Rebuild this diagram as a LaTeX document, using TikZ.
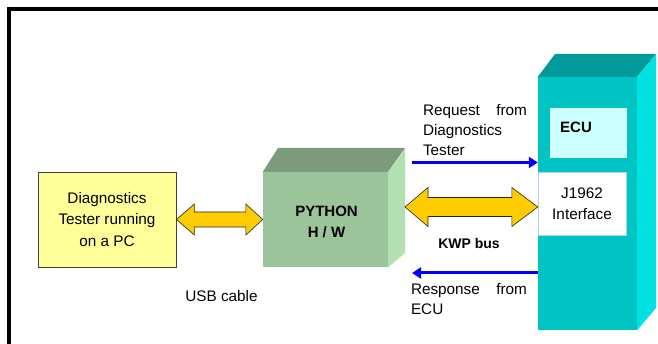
\documentclass[tikz,border=0pt]{standalone}
\usepackage{fontspec}
\setmainfont{Liberation Sans}
\usetikzlibrary{calc,arrows.meta}
\definecolor{pcyellow}{HTML}{FFFF99}
\definecolor{arrowgold}{HTML}{FFCC00}
\definecolor{pyfront}{HTML}{9BC49B}
\definecolor{pytop}{HTML}{7B9B7B}
\definecolor{pyside}{HTML}{B3E0B3}
\definecolor{ecufront}{HTML}{00C3C3}
\definecolor{ecutop}{HTML}{009A9A}
\definecolor{ecuside}{HTML}{00E2E2}
\definecolor{ecuinner}{HTML}{CCFFFF}
\definecolor{jborder}{HTML}{B0D0F0}
\definecolor{sigblue}{HTML}{0000FF}
% #1 start, #2 end, #3 left head length, #4 right head length, #5 half head height, #6 half shaft height
\newcommand\dblarrow[6]{%
  \draw[fatarrow] (#1) -- ($(#1)+(#3,-#5)$) -- ($(#1)+(#3,-#6)$) -- ($(#2)+(-#4,-#6)$)
    -- ($(#2)+(-#4,-#5)$) -- (#2) -- ($(#2)+(-#4,#5)$) -- ($(#2)+(-#4,#6)$)
    -- ($(#1)+(#3,#6)$) -- ($(#1)+(#3,#5)$) -- cycle;}
\begin{document}
\begin{tikzpicture}[x=1pt,y=-1pt,
  font=\fontsize{15.3}{20}\selectfont,
  pcbox/.style={draw=black!75, line width=0.8pt, fill=pcyellow, align=center, inner sep=0pt},
  face/.style={draw=none, inner sep=0pt},
  fatarrow/.style={fill=arrowgold, draw=black!85, line width=0.6pt, line join=miter},
  sig/.style={draw=sigblue, line width=3pt, -{Triangle[length=9pt,width=11pt]}},
  lbl/.style={inner sep=0pt, align=left}]
\useasboundingbox (0,0) rectangle (658,344);
\fill[white] (0,0) rectangle (658,344);
\draw[line width=3.5pt] (662,9) -- (9,9) -- (9,348);

% PC box
\node[pcbox, minimum width=138pt, minimum height=95pt,
      font=\fontsize{15.3}{21.5}\selectfont] (pc) at (107,219.5)
  {Diagnostics\\Tester running\\on a PC};

% PYTHON H/W block
\node[face, fill=pyfront, minimum width=125pt, minimum height=95pt] (py) at (325.5,219.5) {};
\fill[pytop] (py.north west) -- (278,148) -- (405,148) -- (py.north east) -- cycle;
\fill[pyside] (py.north east) -- (405,148) -- (405,253) -- (py.south east) -- cycle;
\node[align=center, inner sep=0pt, font=\bfseries\fontsize{15}{21}\selectfont] (pytext) at ($(py.center)+(1,2)$) {PYTHON\\H / W};

% ECU tower
\node[face, fill=ecufront, minimum width=99pt, minimum height=253pt] (ecu) at (587.5,203.5) {};
\fill[ecutop] (ecu.north west) -- (555,54) -- (656,54) -- (ecu.north east) -- cycle;
\fill[ecuside] (ecu.north east) -- (656,54) -- (656,308) -- (ecu.south east) -- cycle;
\node[draw=ecuinner!60!white, fill=ecuinner, minimum width=76pt, minimum height=49pt, inner sep=0pt] (ecubox) at (588,132.5) {};
\node[anchor=west, inner sep=0pt, font=\bfseries\fontsize{15}{18}\selectfont] (ecutext) at (560,127) {ECU};
\node[draw=jborder, fill=white, minimum width=88pt, minimum height=63pt, align=center, inner sep=0pt,
      font=\fontsize{15.3}{21}\selectfont] (j1962) at (582,203.5) {J1962\\Interface};

% USB double arrow
\dblarrow{pc.east}{py.west}{18}{17}{15.5}{7.5}
\node[inner sep=0pt] (usb) at (221.5,296) {USB cable};

% KWP double arrow
\coordinate (kwpL) at (405,207);
\coordinate (kwpR) at (j1962.west |- kwpL);
\dblarrow{kwpL}{kwpR}{23}{26}{19.5}{9.5}
\node[inner sep=0pt, font=\bfseries\fontsize{14}{16}\selectfont] (kwp) at (469,243) {KWP bus};

% Request / response signals
\coordinate (reqS) at (412,162.5);
\draw[sig] (reqS) -- (reqS -| ecu.west);
\node[lbl, text width=104pt] (reqlbl) at (475,130) {Request\hfill from\\Diagnostics\\Tester};
\coordinate (respE) at (412,273);
\draw[sig] (respE -| ecu.west) -- (respE);
\node[lbl, text width=116pt] (resplbl) at (469,299.5) {Response\hfill from\\ECU};
\end{tikzpicture}
\end{document}
